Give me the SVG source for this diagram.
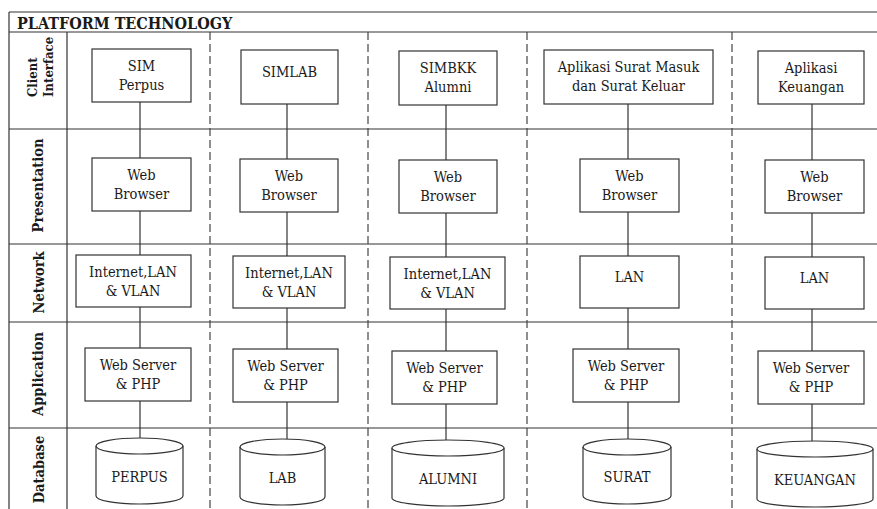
<svg xmlns="http://www.w3.org/2000/svg" width="877" height="509" viewBox="0 0 877 509">
<style>
.grid{stroke:#333;stroke-width:1.2;fill:none}
.dash{stroke:#444;stroke-width:1.2;stroke-dasharray:8 4;fill:none}
.box{fill:#fff;stroke:#333;stroke-width:1.2}
.conn{stroke:#333;stroke-width:1.2;fill:none}
text{font-family:'DejaVu Serif Condensed','DejaVu Serif',serif}
.t{font-size:14.5px;fill:#1a1a1a;text-anchor:middle}
.lbl{font-size:14.5px;font-weight:bold;fill:#1a1a1a;text-anchor:middle}
.lbs{font-size:13px;font-weight:bold;fill:#1a1a1a;text-anchor:start}
.hdr{font-size:16px;font-weight:bold;fill:#1a1a1a}
</style>
<rect width="877" height="509" fill="#fff"/>
<g id="grid">
<line class="grid" x1="9" y1="12" x2="877" y2="12"/>
<line class="grid" x1="9" y1="32" x2="877" y2="32"/>
<line class="grid" x1="9" y1="12" x2="9" y2="509"/>
<line class="grid" x1="67" y1="32" x2="67" y2="509"/>
<line class="grid" x1="9" y1="129" x2="877" y2="129"/>
<line class="grid" x1="9" y1="244" x2="877" y2="244"/>
<line class="grid" x1="9" y1="322" x2="877" y2="322"/>
<line class="grid" x1="9" y1="428" x2="877" y2="428"/>
<line class="dash" x1="210" y1="32" x2="210" y2="509"/>
<line class="dash" x1="368" y1="32" x2="368" y2="509"/>
<line class="dash" x1="527" y1="32" x2="527" y2="509"/>
<line class="dash" x1="732" y1="32" x2="732" y2="509"/>
<text class="hdr" x="17" y="28.5">PLATFORM TECHNOLOGY</text>
</g>
<g id="labels">
<text class="lbs" transform="translate(37,97) rotate(-90)">Client</text>
<text class="lbs" transform="translate(53,97) rotate(-90)">Interface</text>
<text class="lbl" transform="translate(43,185.5) rotate(-90)">Presentation</text>
<text class="lbl" transform="translate(44,282.5) rotate(-90)">Network</text>
<text class="lbl" transform="translate(43,374) rotate(-90)">Application</text>
<text class="lbl" transform="translate(44,469.5) rotate(-90)">Database</text>
</g>
<g id="connectors">
<line class="conn" x1="140" y1="102" x2="140" y2="158"/>
<line class="conn" x1="140" y1="211" x2="140" y2="255"/>
<line class="conn" x1="140" y1="307" x2="140" y2="348"/>
<line class="conn" x1="140" y1="401" x2="140" y2="438"/>
<line class="conn" x1="287" y1="104" x2="287" y2="159"/>
<line class="conn" x1="287" y1="212" x2="287" y2="256"/>
<line class="conn" x1="287" y1="308" x2="287" y2="349"/>
<line class="conn" x1="287" y1="402" x2="287" y2="439"/>
<line class="conn" x1="446" y1="105" x2="446" y2="160"/>
<line class="conn" x1="446" y1="213" x2="446" y2="257"/>
<line class="conn" x1="446" y1="309" x2="446" y2="351"/>
<line class="conn" x1="446" y1="404" x2="446" y2="440"/>
<line class="conn" x1="628" y1="104" x2="628" y2="159"/>
<line class="conn" x1="628" y1="212" x2="628" y2="256"/>
<line class="conn" x1="628" y1="308" x2="628" y2="349"/>
<line class="conn" x1="628" y1="402" x2="628" y2="439"/>
<line class="conn" x1="812" y1="104" x2="812" y2="160"/>
<line class="conn" x1="812" y1="213" x2="812" y2="257"/>
<line class="conn" x1="812" y1="309" x2="812" y2="351"/>
<line class="conn" x1="812" y1="404" x2="812" y2="441"/>
</g>
<g id="sim-perpus"><rect class="box" x="92" y="49" width="99" height="53"/><text class="t" x="141.5" y="71">SIM</text><text class="t" x="141.5" y="90">Perpus</text></g>
<g id="wb1"><rect class="box" x="92" y="158" width="99" height="53"/><text class="t" x="141.5" y="180">Web</text><text class="t" x="141.5" y="199">Browser</text></g>
<g id="net1"><rect class="box" x="76" y="255" width="115" height="52"/><text class="t" x="133" y="277">Internet,LAN</text><text class="t" x="133" y="296">&amp; VLAN</text></g>
<g id="app1"><rect class="box" x="85" y="348" width="106" height="53"/><text class="t" x="138" y="370">Web Server</text><text class="t" x="138" y="389">&amp; PHP</text></g>
<g id="db-perpus"><path class="box" d="M96,446 A43.5,8 0 0 1 183,446 L183,496 A43.5,8 0 0 1 96,496 Z"/><path class="conn" d="M96,446 A43.5,8 0 0 0 183,446"/><text class="t" x="139.5" y="482">PERPUS</text></g>
<g id="simlab"><rect class="box" x="241" y="50" width="97" height="54"/><text class="t" x="289.5" y="77">SIMLAB</text></g>
<g id="wb2"><rect class="box" x="240" y="159" width="98" height="53"/><text class="t" x="289" y="181">Web</text><text class="t" x="289" y="200">Browser</text></g>
<g id="net2"><rect class="box" x="233" y="256" width="112" height="52"/><text class="t" x="289" y="278">Internet,LAN</text><text class="t" x="289" y="297">&amp; VLAN</text></g>
<g id="app2"><rect class="box" x="233" y="349" width="105" height="53"/><text class="t" x="285.5" y="371">Web Server</text><text class="t" x="285.5" y="390">&amp; PHP</text></g>
<g id="db-lab"><path class="box" d="M240,447 A42.5,8 0 0 1 325,447 L325,497 A42.5,8 0 0 1 240,497 Z"/><path class="conn" d="M240,447 A42.5,8 0 0 0 325,447"/><text class="t" x="282.5" y="483">LAB</text></g>
<g id="simbkk"><rect class="box" x="399" y="51" width="98" height="54"/><text class="t" x="448" y="73">SIMBKK</text><text class="t" x="448" y="92">Alumni</text></g>
<g id="wb3"><rect class="box" x="399" y="160" width="98" height="53"/><text class="t" x="448" y="182">Web</text><text class="t" x="448" y="201">Browser</text></g>
<g id="net3"><rect class="box" x="390" y="257" width="115" height="52"/><text class="t" x="447.5" y="279">Internet,LAN</text><text class="t" x="447.5" y="298">&amp; VLAN</text></g>
<g id="app3"><rect class="box" x="392" y="351" width="105" height="53"/><text class="t" x="444.5" y="373">Web Server</text><text class="t" x="444.5" y="392">&amp; PHP</text></g>
<g id="db-alumni"><path class="box" d="M392,448 A56,8 0 0 1 504,448 L504,498 A56,8 0 0 1 392,498 Z"/><path class="conn" d="M392,448 A56,8 0 0 0 504,448"/><text class="t" x="448" y="484">ALUMNI</text></g>
<g id="surat-app"><rect class="box" x="544" y="50" width="169" height="54"/><text class="t" x="628.5" y="72">Aplikasi Surat Masuk</text><text class="t" x="628.5" y="91">dan Surat Keluar</text></g>
<g id="wb4"><rect class="box" x="580" y="159" width="99" height="53"/><text class="t" x="629.5" y="181">Web</text><text class="t" x="629.5" y="200">Browser</text></g>
<g id="net4"><rect class="box" x="580" y="256" width="99" height="52"/><text class="t" x="629.5" y="282">LAN</text></g>
<g id="app4"><rect class="box" x="573" y="349" width="106" height="53"/><text class="t" x="626" y="371">Web Server</text><text class="t" x="626" y="390">&amp; PHP</text></g>
<g id="db-surat"><path class="box" d="M583,447 A44,8 0 0 1 671,447 L671,496 A44,8 0 0 1 583,496 Z"/><path class="conn" d="M583,447 A44,8 0 0 0 671,447"/><text class="t" x="627" y="482">SURAT</text></g>
<g id="keuangan-app"><rect class="box" x="758" y="51" width="106" height="53"/><text class="t" x="811" y="73">Aplikasi</text><text class="t" x="811" y="92">Keuangan</text></g>
<g id="wb5"><rect class="box" x="765" y="160" width="99" height="53"/><text class="t" x="814.5" y="182">Web</text><text class="t" x="814.5" y="201">Browser</text></g>
<g id="net5"><rect class="box" x="765" y="257" width="99" height="52"/><text class="t" x="814.5" y="283">LAN</text></g>
<g id="app5"><rect class="box" x="758" y="351" width="106" height="53"/><text class="t" x="811" y="373">Web Server</text><text class="t" x="811" y="392">&amp; PHP</text></g>
<g id="db-keuangan"><path class="box" d="M757,449 A58,8 0 0 1 873,449 L873,499 A58,8 0 0 1 757,499 Z"/><path class="conn" d="M757,449 A58,8 0 0 0 873,449"/><text class="t" x="815" y="485">KEUANGAN</text></g>
</svg>
